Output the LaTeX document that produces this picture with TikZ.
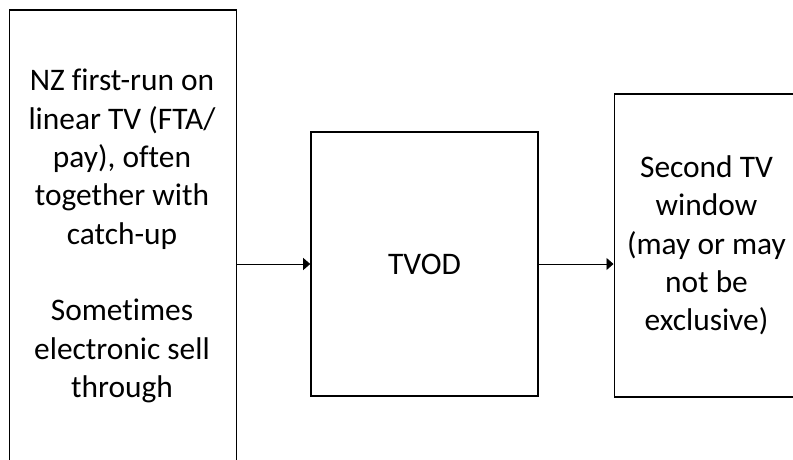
\documentclass[tikz,border=0pt]{standalone}
\usepackage{fontspec}
\setmainfont{Carlito}[Ligatures=NoCommon]
\usetikzlibrary{arrows.meta}
\begin{document}
\begin{tikzpicture}[x=1pt, y=1pt, every node/.style={font=\fontsize{31.4}{38.3}\selectfont},
  box/.style={draw, line width=1.6pt, minimum width=227pt, inner sep=0pt},
  txt/.style={align=center, inner sep=0pt},
  link/.style={line width=0.8pt, -{Triangle[length=7pt, width=12pt]}}]
\useasboundingbox (0,0) rectangle (793,459);
\clip (0,0) rectangle (793,459);
% windows
\node[box, minimum height=480pt, anchor=north west] (linear) at (8.5,450) {};
\node[box, minimum height=264pt] (tvod) at (424.5,195) {TVOD};
\node[box, minimum width=200pt, minimum height=302.5pt, anchor=north west] (second) at (613.5,365.5) {};
% texts
\node[txt] (lineartext) at (122,223) {NZ first-run on\\linear TV (FTA/\\pay), often\\together with\\catch-up\\[38.3pt]Sometimes\\electronic sell\\through};
\node[txt] (secondtext) at (706.5,213.5) {Second TV\\window\\(may or may\\not be\\exclusive)};
% arrows
\draw[link] (linear.east |- tvod.west) -- (tvod.west);
\draw[link] (tvod.east) -- (second.west |- tvod.east);
\end{tikzpicture}
\end{document}
